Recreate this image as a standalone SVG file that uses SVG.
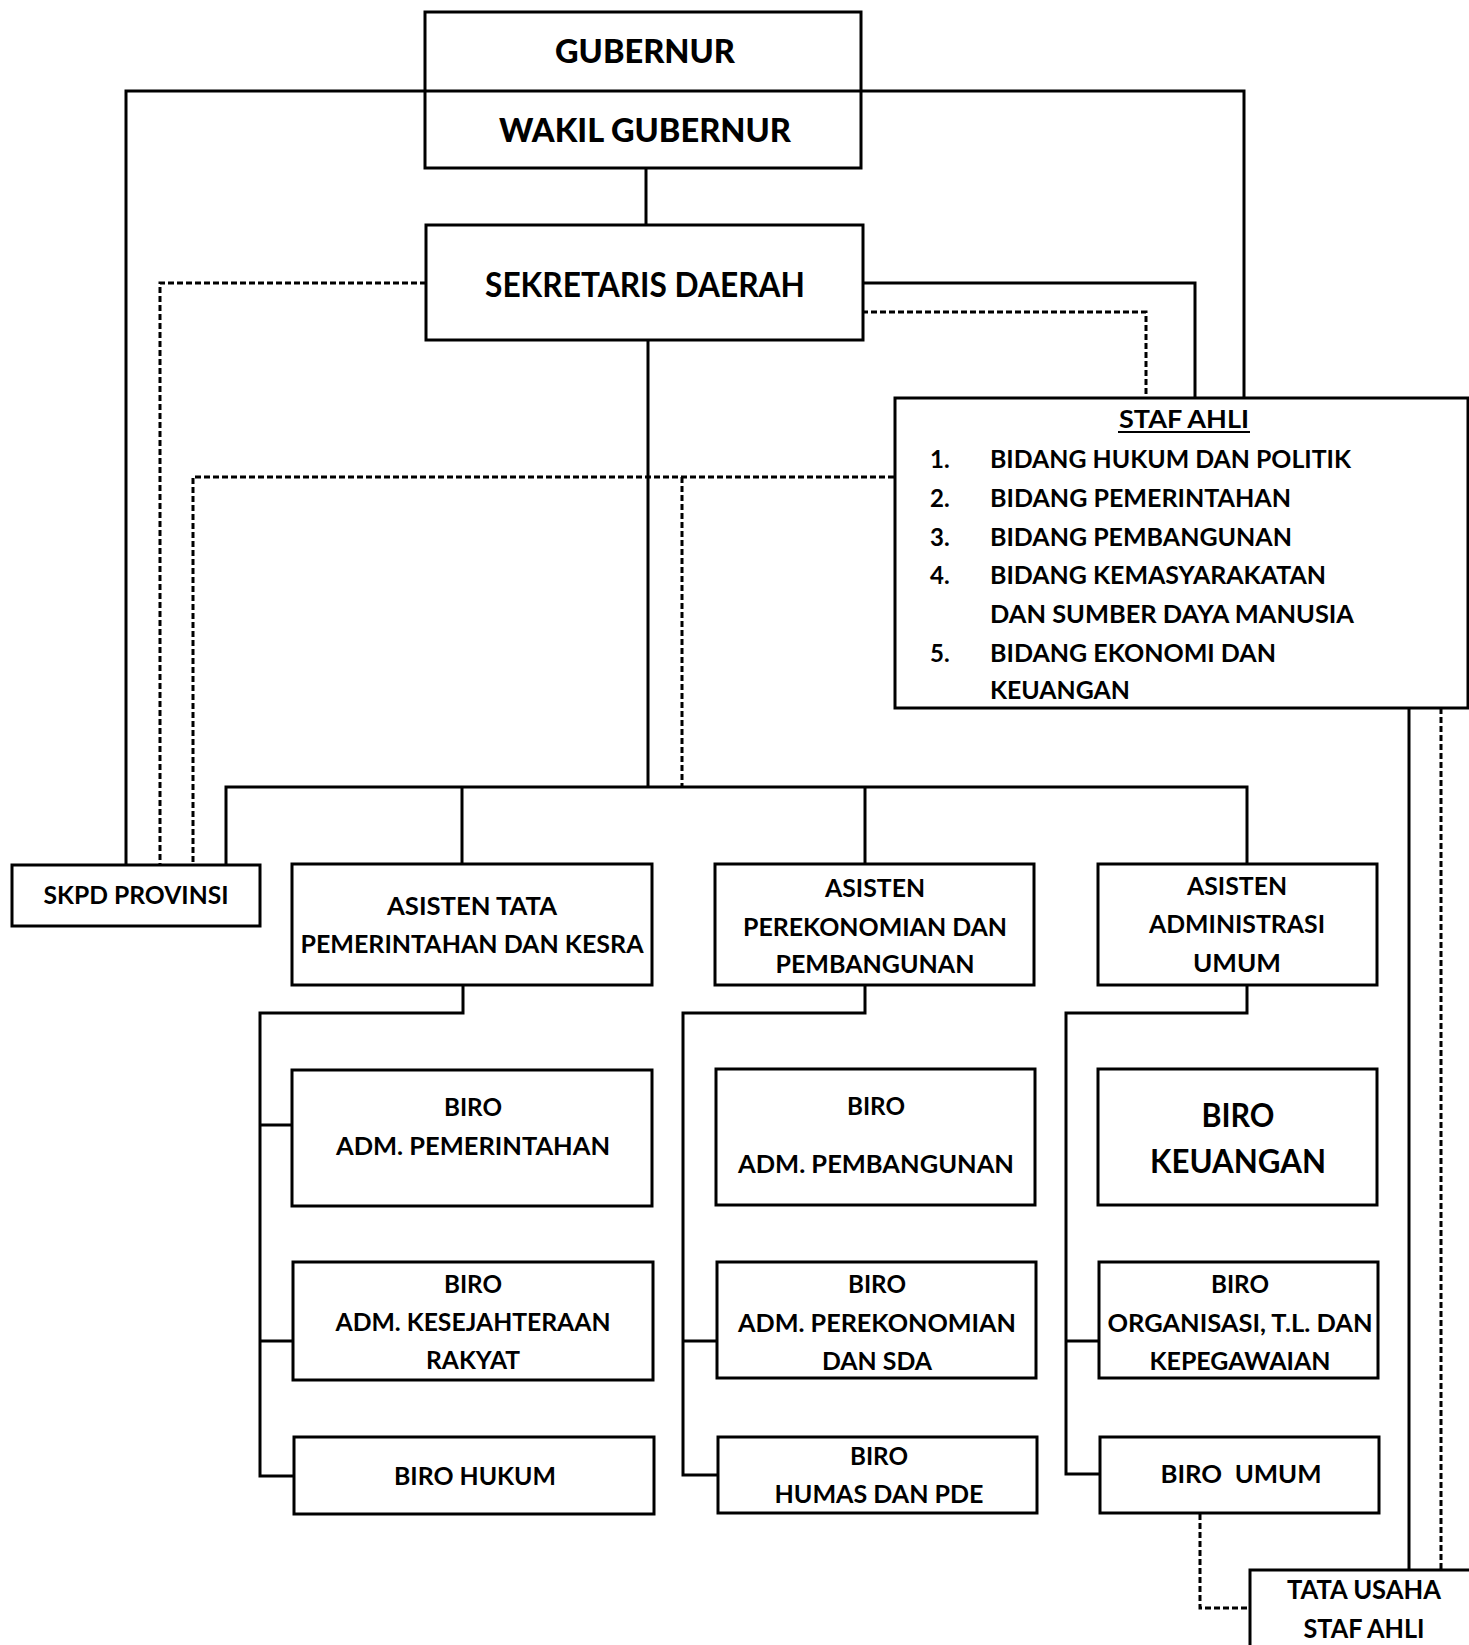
<svg xmlns="http://www.w3.org/2000/svg" width="1469" height="1645" viewBox="0 0 1469 1645">
<style>
.box{fill:#fff;stroke:#000;stroke-width:3}
.ln{fill:none;stroke:#000;stroke-width:3}
.dash{fill:none;stroke:#000;stroke-width:3;stroke-dasharray:6 3}
text{font-family:Lato,"Open Sans","Liberation Sans",sans-serif;font-weight:700;fill:#000}
.c{text-anchor:middle}
.t24{font-size:24px}
.t32{font-size:32px}
.heavy{font-weight:900}
</style>
<rect width="1469" height="1645" fill="#fff"/>
<g id="connectors">
<path class="ln" d="M425,91 H126 V865"/>
<path class="ln" d="M861,91 H1244 V398"/>
<path class="dash" d="M426,283 H160 V865"/>
<path class="ln" d="M862,283 H1195 V398"/>
<path class="dash" d="M862,312 H1146 V398"/>
<path class="ln" d="M646,168 V225"/>
<path class="ln" d="M648,340 V787"/>
<path class="dash" d="M894,477 H193 V865"/>
<path class="dash" d="M682,477 V787"/>
<path class="ln" d="M226,865 V787 H1247 V864"/>
<path class="ln" d="M462,787 V864"/>
<path class="ln" d="M865,787 V864"/>
<path class="ln" d="M463,985 V1013 H260 V1476 H294 M260,1125 H292 M260,1341 H293"/>
<path class="ln" d="M865,985 V1013 H683 V1475 H718 M683,1341 H717"/>
<path class="ln" d="M1247,985 V1013 H1066 V1474 H1100 M1066,1341 H1099"/>
<path class="ln" d="M1409,708 V1570"/>
<path class="dash" d="M1441,708 V1570"/>
<path class="dash" d="M1200,1514 V1608 H1250"/>
</g>
<g id="gubernur">
<rect class="box" x="425" y="12" width="436" height="156"/>
<line class="ln" x1="425" y1="91" x2="861" y2="91"/>
<text class="c t32 heavy" x="645" y="63" textLength="180" lengthAdjust="spacingAndGlyphs">GUBERNUR</text>
<text class="c t32 heavy" x="645" y="142" textLength="292" lengthAdjust="spacingAndGlyphs">WAKIL GUBERNUR</text>
</g>
<g id="sekda">
<rect class="box" x="426" y="225" width="437" height="115"/>
<text class="c" x="645" y="297" font-size="34" font-weight="600" textLength="320" lengthAdjust="spacingAndGlyphs">SEKRETARIS DAERAH</text>
</g>
<g id="staf-ahli">
<rect class="box" x="895" y="398" width="573" height="310"/>
<text class="c t24" x="1184" y="428" textLength="130" lengthAdjust="spacingAndGlyphs">STAF AHLI</text>
<line x1="1118" y1="432" x2="1250" y2="432" stroke="#000" stroke-width="2"/>
<text class="t24" x="930" y="468">1.</text>
<text class="t24" x="990" y="468" textLength="361" lengthAdjust="spacingAndGlyphs">BIDANG HUKUM DAN POLITIK</text>
<text class="t24" x="930" y="507">2.</text>
<text class="t24" x="990" y="507" textLength="301" lengthAdjust="spacingAndGlyphs">BIDANG PEMERINTAHAN</text>
<text class="t24" x="930" y="546">3.</text>
<text class="t24" x="990" y="546" textLength="302" lengthAdjust="spacingAndGlyphs">BIDANG PEMBANGUNAN</text>
<text class="t24" x="930" y="584">4.</text>
<text class="t24" x="990" y="584" textLength="336" lengthAdjust="spacingAndGlyphs">BIDANG KEMASYARAKATAN</text>
<text class="t24" x="990" y="623" textLength="364" lengthAdjust="spacingAndGlyphs">DAN SUMBER DAYA MANUSIA</text>
<text class="t24" x="930" y="662">5.</text>
<text class="t24" x="990" y="662" textLength="286" lengthAdjust="spacingAndGlyphs">BIDANG EKONOMI DAN</text>
<text class="t24" x="990" y="699" textLength="140" lengthAdjust="spacingAndGlyphs">KEUANGAN</text>
</g>
<g id="skpd">
<rect class="box" x="12" y="865" width="248" height="61"/>
<text class="c t24" x="136" y="904" textLength="185" lengthAdjust="spacingAndGlyphs">SKPD PROVINSI</text>
</g>
<g id="asisten-tata">
<rect class="box" x="292" y="864" width="360" height="121"/>
<text class="c t24" x="472" y="915" textLength="170" lengthAdjust="spacingAndGlyphs">ASISTEN TATA</text>
<text class="c t24" x="472" y="953" textLength="343" lengthAdjust="spacingAndGlyphs">PEMERINTAHAN DAN KESRA</text>
</g>
<g id="asisten-perekonomian">
<rect class="box" x="715" y="864" width="319" height="121"/>
<text class="c t24" x="875" y="897" textLength="100" lengthAdjust="spacingAndGlyphs">ASISTEN</text>
<text class="c t24" x="875" y="936" textLength="264" lengthAdjust="spacingAndGlyphs">PEREKONOMIAN DAN</text>
<text class="c t24" x="875" y="973" textLength="199" lengthAdjust="spacingAndGlyphs">PEMBANGUNAN</text>
</g>
<g id="asisten-administrasi">
<rect class="box" x="1098" y="864" width="279" height="121"/>
<text class="c t24" x="1237" y="895" textLength="100" lengthAdjust="spacingAndGlyphs">ASISTEN</text>
<text class="c t24" x="1237" y="933" textLength="176" lengthAdjust="spacingAndGlyphs">ADMINISTRASI</text>
<text class="c t24" x="1237" y="972" textLength="88" lengthAdjust="spacingAndGlyphs">UMUM</text>
</g>
<g id="biro-pemerintahan">
<rect class="box" x="292" y="1070" width="360" height="136"/>
<text class="c t24" x="473" y="1116" textLength="58" lengthAdjust="spacingAndGlyphs">BIRO</text>
<text class="c t24" x="473" y="1155" textLength="274" lengthAdjust="spacingAndGlyphs">ADM. PEMERINTAHAN</text>
</g>
<g id="biro-kesra">
<rect class="box" x="293" y="1262" width="360" height="118"/>
<text class="c t24" x="473" y="1293" textLength="58" lengthAdjust="spacingAndGlyphs">BIRO</text>
<text class="c t24" x="473" y="1331" textLength="275" lengthAdjust="spacingAndGlyphs">ADM. KESEJAHTERAAN</text>
<text class="c t24" x="473" y="1369" textLength="94" lengthAdjust="spacingAndGlyphs">RAKYAT</text>
</g>
<g id="biro-hukum">
<rect class="box" x="294" y="1437" width="360" height="77"/>
<text class="c t24" x="475" y="1485" textLength="162" lengthAdjust="spacingAndGlyphs">BIRO HUKUM</text>
</g>
<g id="biro-pembangunan">
<rect class="box" x="716" y="1069" width="319" height="136"/>
<text class="c t24" x="876" y="1115" textLength="58" lengthAdjust="spacingAndGlyphs">BIRO</text>
<text class="c t24" x="876" y="1173" textLength="276" lengthAdjust="spacingAndGlyphs">ADM. PEMBANGUNAN</text>
</g>
<g id="biro-perekonomian">
<rect class="box" x="717" y="1262" width="319" height="116"/>
<text class="c t24" x="877" y="1293" textLength="58" lengthAdjust="spacingAndGlyphs">BIRO</text>
<text class="c t24" x="877" y="1332" textLength="278" lengthAdjust="spacingAndGlyphs">ADM. PEREKONOMIAN</text>
<text class="c t24" x="877" y="1370" textLength="110" lengthAdjust="spacingAndGlyphs">DAN SDA</text>
</g>
<g id="biro-humas">
<rect class="box" x="718" y="1437" width="319" height="76"/>
<text class="c t24" x="879" y="1465" textLength="58" lengthAdjust="spacingAndGlyphs">BIRO</text>
<text class="c t24" x="879" y="1503" textLength="209" lengthAdjust="spacingAndGlyphs">HUMAS DAN PDE</text>
</g>
<g id="biro-keuangan">
<rect class="box" x="1098" y="1069" width="279" height="136"/>
<text class="c t32" x="1238" y="1127" textLength="73" lengthAdjust="spacingAndGlyphs">BIRO</text>
<text class="c t32" x="1238" y="1173" textLength="176" lengthAdjust="spacingAndGlyphs">KEUANGAN</text>
</g>
<g id="biro-organisasi">
<rect class="box" x="1099" y="1262" width="279" height="116"/>
<text class="c t24" x="1240" y="1293" textLength="58" lengthAdjust="spacingAndGlyphs">BIRO</text>
<text class="c t24" x="1240" y="1332" textLength="265" lengthAdjust="spacingAndGlyphs">ORGANISASI, T.L. DAN</text>
<text class="c t24" x="1240" y="1370" textLength="181" lengthAdjust="spacingAndGlyphs">KEPEGAWAIAN</text>
</g>
<g id="biro-umum">
<rect class="box" x="1100" y="1437" width="279" height="76"/>
<text class="c t24" x="1241" y="1483" textLength="161" lengthAdjust="spacingAndGlyphs" xml:space="preserve">BIRO  UMUM</text>
</g>
<g id="tata-usaha">
<rect class="box" x="1250" y="1570" width="240" height="100"/>
<text class="c" x="1364" y="1599" font-size="26" textLength="154" lengthAdjust="spacingAndGlyphs">TATA USAHA</text>
<text class="c" x="1364" y="1638" font-size="26" textLength="121" lengthAdjust="spacingAndGlyphs">STAF AHLI</text>
</g>
</svg>
